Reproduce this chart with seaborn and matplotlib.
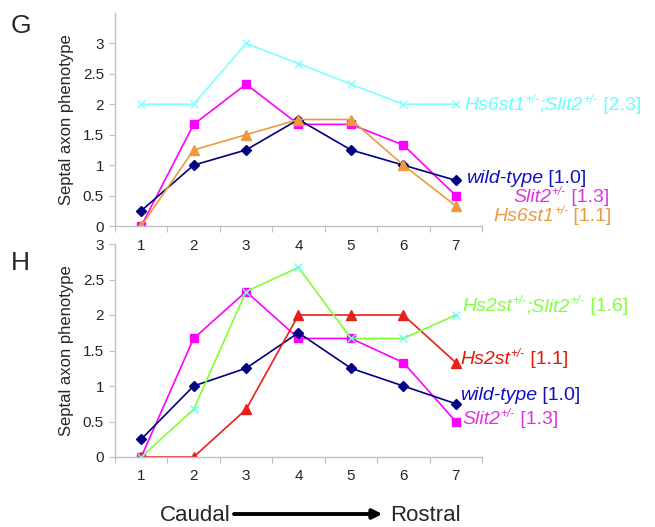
import seaborn as sns
import matplotlib.pyplot as plt
from matplotlib.ticker import FixedLocator, FuncFormatter

# rostro-caudal positions
positions = [1, 2, 3, 4, 5, 6, 7]

# panel G
g_wildtype = [0.25, 1.0, 1.25, 1.75, 1.25, 1.0, 0.75]
g_slit2 = [0.0, 1.67, 2.33, 1.67, 1.67, 1.33, 0.5]
g_hs6st1 = [0.0, 1.25, 1.5, 1.75, 1.75, 1.0, 0.33]
g_hs6st1_slit2 = [2.0, 2.0, 3.0, 2.67, 2.33, 2.0, 2.0]

# panel H
h_slit2 = [0.0, 1.67, 2.33, 1.67, 1.67, 1.33, 0.5]
h_wildtype = [0.25, 1.0, 1.25, 1.75, 1.25, 1.0, 0.75]
h_hs2st = [0.0, 0.0, 0.67, 2.0, 2.0, 2.0, 1.33]
h_hs2st_slit2 = [0.0, 0.67, 2.33, 2.67, 1.67, 1.67, 2.0]

W, H = 655, 527
AXIS_GREY = '#bfbfbf'

sns.set_style('white')
plt.rcParams['font.family'] = ['Liberation Sans', 'DejaVu Sans']


def px(x, y):
    """Pixel position (from top-left) to figure fraction."""
    return x / W, 1 - y / H


def draw_series(ax, values, color, marker, ms, mec=None):
    line_ax = sns.lineplot(x=positions, y=values, ax=ax, color=color, marker=marker,
                           markersize=ms, linewidth=1.2, markeredgewidth=1.0)
    line = line_ax.lines[-1]
    line.set_markeredgecolor(mec or color)
    line.set_markerfacecolor(mec or color)


def style_axes(ax, ymax):
    ax.set_xlim(0.5, 7.5)
    ax.set_ylim(0, ymax)
    for side in ['top', 'right']:
        ax.spines[side].set_visible(False)
    for side in ['left', 'bottom']:
        ax.spines[side].set_color(AXIS_GREY)
        ax.spines[side].set_linewidth(1.0)
    ax.xaxis.set_major_locator(FixedLocator([p - 0.5 for p in positions] + [7.5]))
    ax.xaxis.set_major_formatter(FuncFormatter(lambda v, p: ''))
    ax.xaxis.set_minor_locator(FixedLocator(positions))
    ax.xaxis.set_minor_formatter(FuncFormatter(lambda v, p: '{:g}'.format(v)))
    ax.tick_params(axis='x', which='major', direction='out', length=4, color=AXIS_GREY, bottom=True)
    ax.tick_params(axis='x', which='minor', length=0, pad=9, labelsize=11, bottom=True)
    ax.set_yticks([0, 0.5, 1, 1.5, 2, 2.5, 3])
    ax.yaxis.set_major_formatter(FuncFormatter(lambda v, p: '{:g}'.format(v)))
    ax.tick_params(axis='y', direction='out', length=4, color=AXIS_GREY, pad=4, labelsize=11, left=True)
    ax.set_ylabel('Septal axon phenotype', fontsize=12, labelpad=6)
    ax.set_xlabel('')
    ax.patch.set_alpha(0)


def series_label(fig, x, y, parts, color):
    """parts: list of (text, kind) with kind 'it' (italic), 'sup' or 'rm'."""
    base = None
    prev = None
    for text, kind in parts:
        if base is None:
            base = fig.text(*px(x, y), text, style='italic', color=color,
                            fontsize=14, va='baseline')
            prev = base
            continue
        if kind == 'sup':
            prev = plt.annotate(text, xy=(1, 0), xycoords=(prev, base), xytext=(0.5, 6.0),
                                textcoords='offset points', style='italic', color=color,
                                fontsize=8.5, va='bottom', annotation_clip=False)
        else:
            prev = plt.annotate(text, xy=(1, 0), xycoords=(prev, base), color=color,
                                style='italic' if kind == 'it' else 'normal',
                                fontsize=14, va='bottom', annotation_clip=False)


fig = plt.figure(figsize=(W / 100, H / 100), dpi=100)

# panel G axes: x 115..482 px, y 13..226 px
ax_g = fig.add_axes([115 / W, 1 - 226 / H, (482 - 115) / W, (226 - 13) / H])
draw_series(ax_g, g_slit2, '#ff00ff', 's', 6)
draw_series(ax_g, g_wildtype, '#000080', 'D', 5)
draw_series(ax_g, g_hs6st1, '#ec9a3c', '^', 7)
draw_series(ax_g, g_hs6st1_slit2, '#80ffff', 'x', 6)
style_axes(ax_g, 3.5)

# panel H axes: x 115..480 px, y 244..457 px
ax_h = fig.add_axes([115 / W, 1 - 457 / H, (482 - 115) / W, (457 - 244) / H])
draw_series(ax_h, h_slit2, '#ff00ff', 's', 6)
draw_series(ax_h, h_wildtype, '#000080', 'D', 5)
draw_series(ax_h, h_hs2st, '#e8201a', '^', 7)
draw_series(ax_h, h_hs2st_slit2, '#80ff30', 'x', 6, mec='#60ffff')
style_axes(ax_h, 3.0)

# panel letters
fig.text(*px(11, 33), 'G', fontsize=19, va='baseline')
fig.text(*px(11, 270), 'H', fontsize=19, va='baseline')

# series labels, panel G
series_label(fig, 464, 110, [('Hs6st1', 'it'), ('+/-', 'sup'), (';Slit2', 'it'),
                             ('+/-', 'sup'), (' [2.3]', 'rm')], '#66ffff')
series_label(fig, 466, 183, [('wild-type', 'it'), (' [1.0]', 'rm')], '#1010c0')
series_label(fig, 513, 202, [('Slit2', 'it'), ('+/-', 'sup'), (' [1.3]', 'rm')], '#e033e0')
series_label(fig, 493, 221, [('Hs6st1', 'it'), ('+/-', 'sup'), (' [1.1]', 'rm')], '#ea9a40')

# series labels, panel H
series_label(fig, 462, 311, [('Hs2st', 'it'), ('+/-', 'sup'), (';Slit2', 'it'),
                             ('+/-', 'sup'), (' [1.6]', 'rm')], '#80ff40')
series_label(fig, 460, 364, [('Hs2st', 'it'), ('+/-', 'sup'), (' [1.1]', 'rm')], '#e01a10')
series_label(fig, 460, 400, [('wild-type', 'it'), (' [1.0]', 'rm')], '#1010c0')
series_label(fig, 462, 424, [('Slit2', 'it'), ('+/-', 'sup'), (' [1.3]', 'rm')], '#e033e0')

# axis direction
fig.text(*px(231, 521), 'Caudal', fontsize=16, ha='right', va='baseline')
fig.text(*px(390, 521), 'Rostral', fontsize=16, ha='left', va='baseline')
fig.add_artist(plt.annotate('', xy=px(382, 514), xycoords='figure fraction',
                            xytext=px(234, 514), textcoords='figure fraction',
                            arrowprops=dict(arrowstyle='-|>', lw=2.5, color='black',
                                            mutation_scale=14, shrinkA=0, shrinkB=0)))

fig.savefig('out.png', dpi=100)
